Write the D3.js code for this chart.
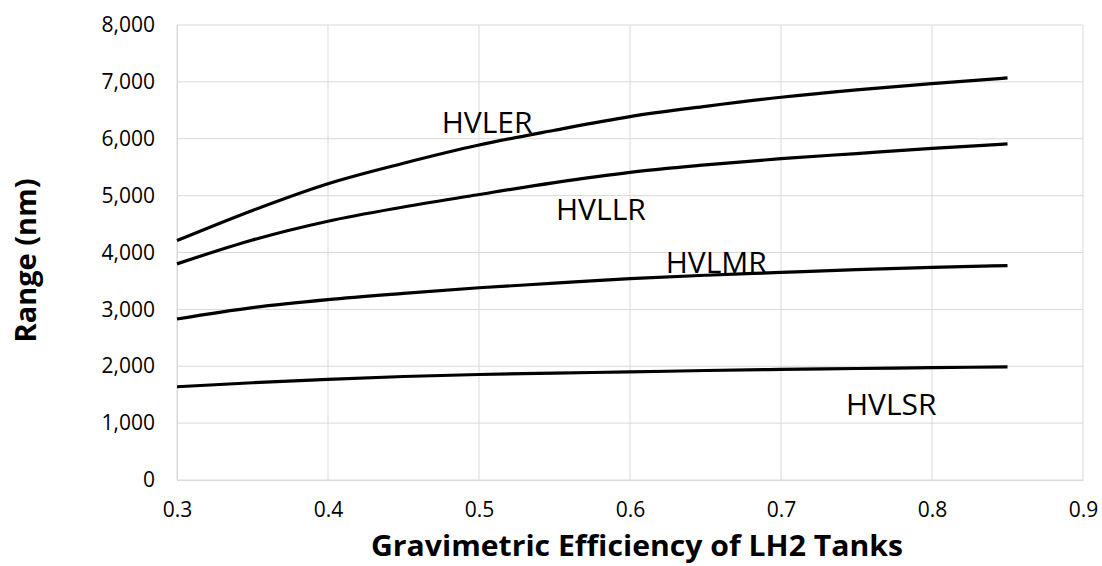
<!DOCTYPE html>
<html><head><meta charset="utf-8">
<script src="https://cdn.jsdelivr.net/npm/d3@7"></script>
<style>body{margin:0;background:#fff;} svg{display:block;font-family:"Open Sans",sans-serif;}</style>
</head><body>
<svg id="chart" width="1102" height="566"></svg>
<script>
const efficiency = [0.3,0.35,0.4,0.45,0.5,0.55,0.6,0.65,0.7,0.75,0.8,0.85];
const hvler = [4210,4740,5210,5570,5890,6150,6390,6570,6730,6860,6970,7070];
const hvllr = [3800,4220,4550,4800,5020,5230,5410,5540,5650,5740,5830,5910];
const hvlmr = [2830,3030,3170,3280,3380,3460,3540,3600,3650,3700,3740,3770];
const hvlsr = [1640,1710,1770,1820,1855,1880,1900,1925,1945,1960,1975,1990];
const seriesNames = ["HVLER","HVLLR","HVLMR","HVLSR"];
const labelPos = [[0.4753,6100],[0.551,4571],[0.6236,3640],[0.743,1143]]; // data coords of label start (x, baseline value)
const xTicks = [0.3,0.4,0.5,0.6,0.7,0.8,0.9];
const yTicks = [0,1000,2000,3000,4000,5000,6000,7000,8000];
const xTitle = "Gravimetric Efficiency of LH2 Tanks";
const yTitle = "Range (nm)";

const svg = d3.select("#chart");
const m = {left:177, right:1083, top:25, bottom:480};
const x = d3.scaleLinear().domain([0.3,0.9]).range([m.left,m.right]);
const y = d3.scaleLinear().domain([0,8000]).range([m.bottom,m.top]);

// gridlines
svg.append("g").selectAll("line").data(yTicks).join("line")
  .attr("x1",m.left).attr("x2",m.right).attr("y1",d=>y(d)).attr("y2",d=>y(d))
  .attr("stroke","#d9d9d9").attr("stroke-width",1);
svg.append("g").selectAll("line").data(xTicks).join("line")
  .attr("y1",m.top).attr("y2",m.bottom).attr("x1",d=>x(d)).attr("x2",d=>x(d))
  .attr("stroke","#d9d9d9").attr("stroke-width",1);

// axes
const yAxis = d3.axisLeft(y).tickValues(yTicks).tickSize(0).tickPadding(22).tickFormat(d3.format(","));
const gy = svg.append("g").attr("transform",`translate(${m.left},0)`).call(yAxis);
gy.select(".domain").attr("stroke","#d9d9d9");
gy.selectAll("text").attr("font-size",21).attr("fill","#000").attr("font-family","Open Sans");

const xAxis = d3.axisBottom(x).tickValues(xTicks).tickSize(0).tickPadding(22).tickFormat(d3.format(".1f"));
const gx = svg.append("g").attr("transform",`translate(0,${m.bottom})`).call(xAxis);
gx.select(".domain").attr("stroke","#d9d9d9");
gx.selectAll("text").attr("font-size",21).attr("fill","#000").attr("font-family","Open Sans");

// lines
const allSeries = [hvler,hvllr,hvlmr,hvlsr];
const line = d3.line().x((d,i)=>x(efficiency[i])).y(d=>y(d)).curve(d3.curveMonotoneX);
svg.append("g").selectAll("path").data(allSeries).join("path")
  .attr("d",line).attr("fill","none").attr("stroke","#000").attr("stroke-width",3.2);

// labels
svg.append("g").selectAll("text").data(seriesNames).join("text")
  .attr("x",(d,i)=>x(labelPos[i][0])).attr("y",(d,i)=>y(labelPos[i][1]))
  .attr("font-size",30).attr("fill","#000").text(d=>d);

// titles
svg.append("text").attr("x",(m.left+m.right)/2+7).attr("y",556).attr("text-anchor","middle")
  .attr("font-size",29).attr("font-weight","bold")
  .attr("textLength",532).attr("lengthAdjust","spacingAndGlyphs").text(xTitle);
svg.append("text").attr("transform",`translate(36,${(m.top+m.bottom)/2+8}) rotate(-90)`)
  .attr("text-anchor","middle").attr("font-size",29).attr("font-weight","bold").text(yTitle);
</script>
</body></html>
